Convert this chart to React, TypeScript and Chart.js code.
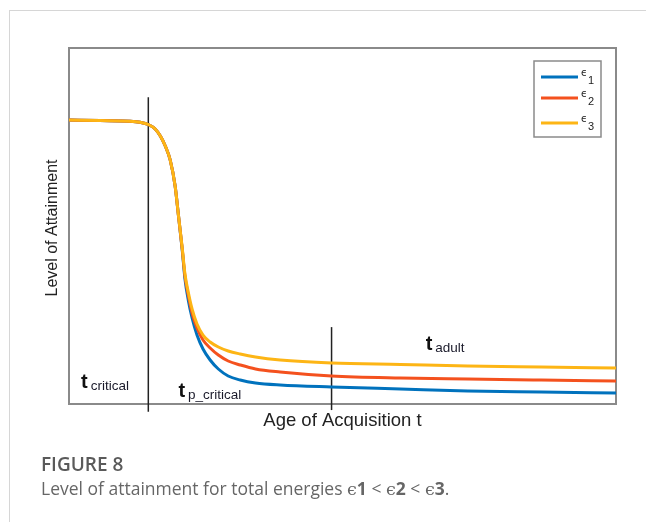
import React, { useEffect, useRef } from "react";
import { Chart, registerables } from "chart.js";

Chart.register(...registerables);

// Age of acquisition (x, 0..100 scale)
const ages = [0, 5.7, 11.2, 13.0, 14.5, 15.75, 16.7, 17.6, 18.5, 19.4, 20.0, 20.7, 21.2, 21.8, 22.5, 23.4, 24.5, 25.8, 27.3, 29.1, 31.3, 34.1, 38.6, 48.0, 60.6, 72.9, 86.3, 100];
// Level of attainment for each total energy
const eps1 = [79.78, 79.63, 79.44, 79.13, 78.51, 77.25, 75.28, 72.47, 68.54, 61.24, 53.09, 43.26, 35.11, 29.21, 24.16, 19.38, 15.45, 12.36, 9.83, 7.87, 6.74, 5.9, 5.34, 4.78, 4.21, 3.65, 3.37, 3.09];
const eps2 = [79.78, 79.63, 79.44, 79.13, 78.51, 77.25, 75.28, 72.47, 68.54, 61.24, 53.09, 43.54, 35.96, 30.62, 25.56, 21.35, 17.98, 15.73, 13.76, 12.08, 10.96, 9.83, 8.99, 7.87, 7.3, 7.02, 6.74, 6.46];
const eps3 = [79.78, 79.63, 79.44, 79.13, 78.51, 77.25, 75.28, 72.47, 68.54, 61.24, 53.09, 43.82, 36.52, 31.46, 26.69, 22.47, 19.38, 17.42, 16.01, 14.89, 14.04, 13.2, 12.36, 11.52, 11.1, 10.67, 10.39, 10.11];

const seriesNames = ["1", "2", "3"];
const seriesColors = ["#0072BD", "#F4511E", "#FDB515"];

// Marker lines (x position, y from, y to)
const markerX = [14.5, 48.0];
const markerYFrom = [-2.2, -1.7];
const markerYTo = [86.2, 21.6];

// Annotation labels
const annoMain = ["t", "t", "t"];
const annoSub = ["critical", "p_critical", "adult"];
const annoX = [2.2, 20.0, 65.2];
const annoY = [4.5, 2.0, 15.2];

const xTitle = "Age of Acquisition t";
const yTitle = "Level of Attainment";

const decorPlugin = {
  id: "decor",
  beforeDatasetsDraw(chart: any) {
    const { ctx, chartArea } = chart;
    ctx.save();
    ctx.strokeStyle = "#8a8a8a";
    ctx.lineWidth = 2;
    ctx.strokeRect(chartArea.left, chartArea.top, chartArea.right - chartArea.left, chartArea.bottom - chartArea.top);
    ctx.restore();
  },
  afterDatasetsDraw(chart: any) {
    const { ctx, chartArea, scales } = chart;
    const xs = scales.x;
    const ys = scales.y;
    ctx.save();
    // annotations
    for (let i = 0; i < annoMain.length; i++) {
      const px = xs.getPixelForValue(annoX[i]);
      const py = ys.getPixelForValue(annoY[i]);
      ctx.fillStyle = "#111";
      ctx.font = "bold 20px 'Liberation Sans', Arial, sans-serif";
      ctx.textBaseline = "alphabetic";
      ctx.textAlign = "left";
      ctx.fillText(annoMain[i], px, py);
      const w = ctx.measureText(annoMain[i]).width;
      ctx.font = "13.5px 'Liberation Sans', Arial, sans-serif";
      ctx.fillStyle = "#1a1a2a";
      ctx.fillText(annoSub[i], px + w + 3, py + 2);
    }
    // axis titles
    ctx.fillStyle = "#222";
    ctx.font = "18.5px 'Liberation Sans', Arial, sans-serif";
    ctx.textAlign = "center";
    ctx.textBaseline = "middle";
    ctx.fillText(xTitle, (chartArea.left + chartArea.right) / 2, chartArea.bottom + 17);
    ctx.save();
    ctx.translate(chartArea.left - 16, (chartArea.top + chartArea.bottom) / 2 + 2);
    ctx.rotate(-Math.PI / 2);
    ctx.font = "16px 'Liberation Sans', Arial, sans-serif";
    ctx.fillText(yTitle, 0, 0);
    ctx.restore();
    // legend
    const lx = chartArea.right - 82;
    const ly = chartArea.top + 13;
    ctx.fillStyle = "#fff";
    ctx.fillRect(lx, ly, 67, 76);
    ctx.strokeStyle = "#8a8a8a";
    ctx.lineWidth = 1.5;
    ctx.strokeRect(lx, ly, 67, 76);
    const rows = [16, 37, 62];
    for (let i = 0; i < seriesNames.length; i++) {
      const y = ly + rows[i];
      ctx.strokeStyle = seriesColors[i];
      ctx.lineWidth = 3;
      ctx.beginPath();
      ctx.moveTo(lx + 7, y);
      ctx.lineTo(lx + 44, y);
      ctx.stroke();
      ctx.fillStyle = "#222";
      ctx.textAlign = "left";
      ctx.textBaseline = "alphabetic";
      ctx.font = "10px 'DejaVu Sans', sans-serif";
      ctx.fillText("\u03f5", lx + 47, y - 1);
      ctx.font = "11px 'Liberation Sans', Arial, sans-serif";
      ctx.fillText(seriesNames[i], lx + 54, y + 7);
    }
    ctx.restore();
  },
};

export default function App() {
  const ref = useRef<HTMLCanvasElement>(null);
  useEffect(() => {
    if (!ref.current) return;
    const curves = [eps3, eps2, eps1];
    const colors = [seriesColors[2], seriesColors[1], seriesColors[0]];
    const datasets: any[] = curves.map((vals, k) => ({
      label: "eps" + (3 - k),
      data: ages.map((a, i) => ({ x: a, y: vals[i] })),
      borderColor: colors[k],
      borderWidth: 3,
      pointRadius: 0,
      cubicInterpolationMode: "monotone",
      fill: false,
    }));
    markerX.forEach((mx, i) => {
      datasets.push({
        label: "marker" + i,
        data: [
          { x: mx, y: markerYFrom[i] },
          { x: mx, y: markerYTo[i] },
        ],
        borderColor: "#222",
        borderWidth: 1.5,
        pointRadius: 0,
        clip: false,
        fill: false,
      });
    });
    const chart = new Chart(ref.current, {
      type: "line",
      data: { datasets },
      options: {
        animation: false,
        responsive: false,
        devicePixelRatio: 1,
        layout: { padding: { left: 69, top: 48, right: 30, bottom: 118 } },
        plugins: { legend: { display: false }, tooltip: { enabled: false } },
        scales: {
          x: { type: "linear", min: 0, max: 100, display: false },
          y: { type: "linear", min: 0, max: 100, display: false },
        },
      },
      plugins: [decorPlugin],
    } as any);
    return () => chart.destroy();
  }, []);

  const epsStyle = { fontFamily: "'DejaVu Serif', serif" };
  return (
    <div style={{ position: "fixed", left: 0, top: 0, width: 646, height: 522, overflow: "hidden", background: "#fff" }}>
      <div style={{ position: "absolute", left: 9, top: 10, width: 700, height: 600, border: "1px solid #d6d6d6", boxSizing: "border-box" }} />
      <canvas ref={ref} width={646} height={522} style={{ position: "absolute", left: 0, top: 0 }} />
      <div style={{ position: "absolute", left: 41, top: 451, fontFamily: "'Open Sans', sans-serif", fontWeight: 600, fontSize: 19, color: "#5a5a5a", whiteSpace: "nowrap", lineHeight: "26px" }}>
        FIGURE 8
      </div>
      <div style={{ position: "absolute", left: 41, top: 476, fontFamily: "'Open Sans', sans-serif", fontSize: 17.5, color: "#666", whiteSpace: "nowrap", lineHeight: "24px" }}>
        Level of attainment for total energies <span style={epsStyle}>ϵ</span><b>1</b>{" < "}<span style={epsStyle}>ϵ</span><b>2</b>{" < "}<span style={epsStyle}>ϵ</span><b>3</b>.
      </div>
    </div>
  );
}
